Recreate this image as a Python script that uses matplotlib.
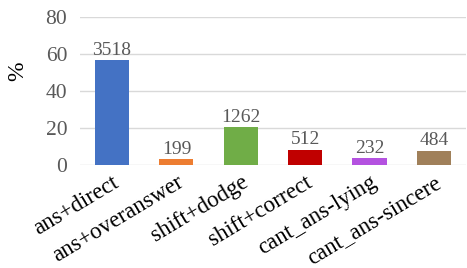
import matplotlib.pyplot as plt

categories = ['ans+direct', 'ans+overanswer', 'shift+dodge', 'shift+correct',
              'cant_ans-lying', 'cant_ans-sincere']
counts = [3518, 199, 1262, 512, 232, 484]
percents = [56.7, 3.2, 20.3, 8.2, 3.7, 7.8]
colors = ['#4472C4', '#ED7D31', '#70AD47', '#C00000', '#B452E0', '#A0805A']

plt.rcParams['font.family'] = ['Liberation Serif', 'DejaVu Serif']

fig = plt.figure(figsize=(4.67, 2.68), dpi=100)
ax = fig.add_axes([0.171, 0.384, 0.827, 0.553])

x = range(len(categories))
bars = ax.bar(x, percents, width=0.53, color=colors, zorder=3)
for b, c in zip(bars, counts):
    ax.text(b.get_x() + b.get_width() / 2, b.get_height() + 0.8, str(c),
            ha='center', va='bottom', fontsize=14, color='#595959')

ax.set_ylim(0, 80)
ax.set_xlim(-0.5, len(categories) - 0.5)
ax.set_yticks([0, 20, 40, 60, 80])
ax.yaxis.grid(True, color='#D9D9D9', linewidth=1, zorder=0)
for s in ax.spines.values():
    s.set_visible(False)
ax.tick_params(length=0)
ax.tick_params(axis='y', labelsize=15.5, labelcolor='#595959', pad=9)
ax.set_xticks(list(x))
ax.set_xticklabels(categories, rotation=31, ha='right', rotation_mode='anchor',
                   fontsize=16.5, color='black')
ax.tick_params(axis='x', pad=5)
ax.set_ylabel('%', fontsize=17, color='black')
ax.yaxis.set_label_coords(-0.133, 0.63)

fig.savefig('out.png', dpi=100)
